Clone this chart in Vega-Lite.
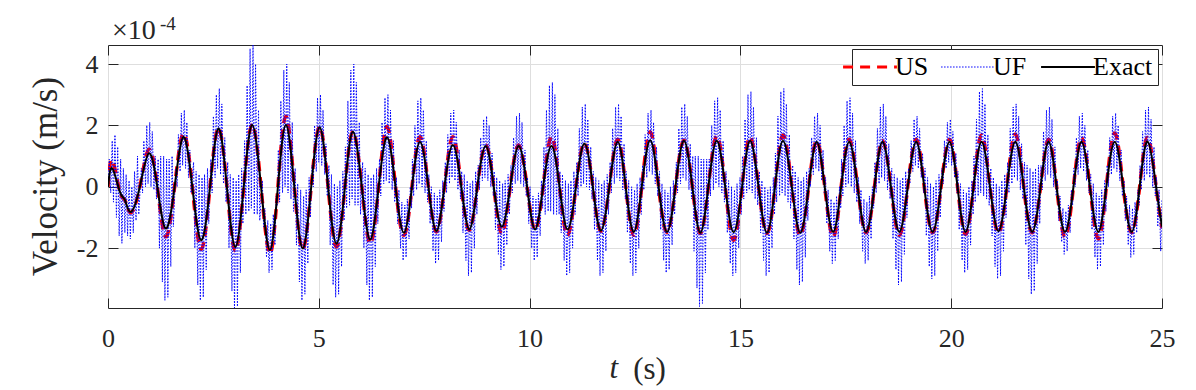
{
"$schema":"https://vega.github.io/schema/vega-lite/v6.json",
"width":1054,"height":263,
"autosize":{"type":"none"},
"padding":{"left":108,"top":45,"right":34,"bottom":82},
"background":"white",
"config":{
 "font":"Liberation Serif, Times New Roman, DejaVu Serif, serif",
 "view":{"stroke":"#262626","strokeWidth":1},
 "axis":{"labelFont":"Liberation Serif, Times New Roman, DejaVu Serif, serif","titleFont":"Liberation Serif, Times New Roman, DejaVu Serif, serif","labelColor":"#262626","titleColor":"#262626","tickColor":"#262626","tickWidth":1,"domain":false,"gridColor":"#dedede","gridWidth":1,"titleFontWeight":"normal"},
 "legend":{"labelFont":"Liberation Serif, Times New Roman, DejaVu Serif, serif","strokeColor":"#262626","strokeWidth":1,"fillColor":"#ffffff","zindex":5}
},
"datasets":{
"ex":[{"t":0,"v":0},{"t":0.1,"v":0.6},{"t":0.28,"v":-0.16},{"t":0.4,"v":-0.43},{"t":0.54,"v":-0.82},{"t":0.755,"v":0},{"t":0.97,"v":1.09},{"t":1.17,"v":0},{"t":1.37,"v":-1.36},{"t":1.58,"v":0},{"t":1.79,"v":1.62},{"t":2.0,"v":0},{"t":2.21,"v":-1.74},{"t":2.42,"v":0},{"t":2.62,"v":1.9},{"t":2.82,"v":0},{"t":3.02,"v":-1.96},{"t":3.22,"v":0},{"t":3.42,"v":2.01},{"t":3.63,"v":0},{"t":3.84,"v":-2.06},{"t":4.03,"v":0},{"t":4.22,"v":2.01},{"t":4.42,"v":0},{"t":4.62,"v":-2.01},{"t":4.82,"v":0},{"t":5.02,"v":1.94},{"t":5.22,"v":0},{"t":5.42,"v":-1.85},{"t":5.62,"v":0},{"t":5.81,"v":1.79},{"t":6.02,"v":0},{"t":6.22,"v":-1.72},{"t":6.42,"v":0},{"t":6.62,"v":1.61},{"t":6.82,"v":0},{"t":7.02,"v":-1.5},{"t":7.21,"v":0},{"t":7.4,"v":1.47},{"t":7.6,"v":0},{"t":7.79,"v":-1.44},{"t":7.98,"v":0},{"t":8.18,"v":1.36},{"t":8.38,"v":0},{"t":8.57,"v":-1.39},{"t":8.76,"v":0},{"t":8.96,"v":1.33},{"t":9.15,"v":0},{"t":9.34,"v":-1.3},{"t":9.54,"v":0},{"t":9.74,"v":1.33},{"t":9.94,"v":0},{"t":10.13,"v":-1.39},{"t":10.32,"v":0},{"t":10.52,"v":1.33},{"t":10.71,"v":0},{"t":10.9,"v":-1.39},{"t":11.1,"v":0},{"t":11.3,"v":1.41},{"t":11.5,"v":0},{"t":11.69,"v":-1.43},{"t":11.89,"v":0},{"t":12.09,"v":1.47},{"t":12.28,"v":0},{"t":12.47,"v":-1.47},{"t":12.66,"v":0},{"t":12.86,"v":1.52},{"t":13.06,"v":0},{"t":13.26,"v":-1.47},{"t":13.46,"v":0},{"t":13.66,"v":1.5},{"t":13.86,"v":0},{"t":14.05,"v":-1.5},{"t":14.24,"v":0},{"t":14.44,"v":1.5},{"t":14.64,"v":0},{"t":14.84,"v":-1.48},{"t":15.04,"v":0},{"t":15.23,"v":1.5},{"t":15.43,"v":0},{"t":15.63,"v":-1.5},{"t":15.82,"v":0},{"t":16.01,"v":1.5},{"t":16.22,"v":0},{"t":16.42,"v":-1.5},{"t":16.62,"v":0},{"t":16.81,"v":1.47},{"t":17.0,"v":0},{"t":17.2,"v":-1.47},{"t":17.39,"v":0},{"t":17.58,"v":1.47},{"t":17.78,"v":0},{"t":17.98,"v":-1.47},{"t":18.18,"v":0},{"t":18.37,"v":1.47},{"t":18.57,"v":0},{"t":18.77,"v":-1.47},{"t":18.97,"v":0},{"t":19.17,"v":1.47},{"t":19.36,"v":0},{"t":19.56,"v":-1.47},{"t":19.76,"v":0},{"t":19.96,"v":1.47},{"t":20.15,"v":0},{"t":20.34,"v":-1.47},{"t":20.53,"v":0},{"t":20.72,"v":1.47},{"t":20.92,"v":0},{"t":21.12,"v":-1.45},{"t":21.32,"v":0},{"t":21.52,"v":1.47},{"t":21.72,"v":0},{"t":21.92,"v":-1.47},{"t":22.12,"v":0},{"t":22.31,"v":1.47},{"t":22.5,"v":0},{"t":22.7,"v":-1.47},{"t":22.9,"v":0},{"t":23.09,"v":1.47},{"t":23.29,"v":0},{"t":23.49,"v":-1.47},{"t":23.68,"v":0},{"t":23.88,"v":1.47},{"t":24.08,"v":0},{"t":24.28,"v":-1.47},{"t":24.47,"v":0},{"t":24.66,"v":1.47},{"t":24.86,"v":0},{"t":25,"v":-1.3}],
"us":[{"t":0,"v":0},{"t":0.1,"v":0.87},{"t":0.28,"v":-0.16},{"t":0.4,"v":-0.43},{"t":0.54,"v":-0.85},{"t":0.755,"v":0},{"t":0.97,"v":1.22},{"t":1.17,"v":0},{"t":1.37,"v":-1.63},{"t":1.58,"v":0},{"t":1.79,"v":1.74},{"t":2.0,"v":0},{"t":2.21,"v":-2.04},{"t":2.42,"v":0},{"t":2.62,"v":1.92},{"t":2.82,"v":0},{"t":3.02,"v":-2.09},{"t":3.22,"v":0},{"t":3.42,"v":2.03},{"t":3.63,"v":0},{"t":3.84,"v":-2.17},{"t":4.03,"v":0},{"t":4.22,"v":2.3},{"t":4.42,"v":0},{"t":4.62,"v":-2.04},{"t":4.82,"v":0},{"t":5.02,"v":1.96},{"t":5.22,"v":0},{"t":5.42,"v":-1.96},{"t":5.62,"v":0},{"t":5.81,"v":1.8},{"t":6.02,"v":0},{"t":6.22,"v":-1.85},{"t":6.42,"v":0},{"t":6.62,"v":1.96},{"t":6.82,"v":0},{"t":7.02,"v":-1.58},{"t":7.21,"v":0},{"t":7.4,"v":1.63},{"t":7.6,"v":0},{"t":7.79,"v":-1.47},{"t":7.98,"v":0},{"t":8.18,"v":1.63},{"t":8.38,"v":0},{"t":8.57,"v":-1.42},{"t":8.76,"v":0},{"t":8.96,"v":1.36},{"t":9.15,"v":0},{"t":9.34,"v":-1.52},{"t":9.54,"v":0},{"t":9.74,"v":1.36},{"t":9.94,"v":0},{"t":10.13,"v":-1.4},{"t":10.32,"v":0},{"t":10.52,"v":1.63},{"t":10.71,"v":0},{"t":10.9,"v":-1.58},{"t":11.1,"v":0},{"t":11.3,"v":1.43},{"t":11.5,"v":0},{"t":11.69,"v":-1.45},{"t":11.89,"v":0},{"t":12.09,"v":1.55},{"t":12.28,"v":0},{"t":12.47,"v":-1.58},{"t":12.66,"v":0},{"t":12.86,"v":1.79},{"t":13.06,"v":0},{"t":13.26,"v":-1.49},{"t":13.46,"v":0},{"t":13.66,"v":1.52},{"t":13.86,"v":0},{"t":14.05,"v":-1.52},{"t":14.24,"v":0},{"t":14.44,"v":1.65},{"t":14.64,"v":0},{"t":14.84,"v":-1.74},{"t":15.04,"v":0},{"t":15.23,"v":1.63},{"t":15.43,"v":0},{"t":15.63,"v":-1.52},{"t":15.82,"v":0},{"t":16.01,"v":1.69},{"t":16.22,"v":0},{"t":16.42,"v":-1.58},{"t":16.62,"v":0},{"t":16.81,"v":1.5},{"t":17.0,"v":0},{"t":17.2,"v":-1.63},{"t":17.39,"v":0},{"t":17.58,"v":1.55},{"t":17.78,"v":0},{"t":17.98,"v":-1.5},{"t":18.18,"v":0},{"t":18.37,"v":1.5},{"t":18.57,"v":0},{"t":18.77,"v":-1.58},{"t":18.97,"v":0},{"t":19.17,"v":1.55},{"t":19.36,"v":0},{"t":19.56,"v":-1.5},{"t":19.76,"v":0},{"t":19.96,"v":1.55},{"t":20.15,"v":0},{"t":20.34,"v":-1.55},{"t":20.53,"v":0},{"t":20.72,"v":1.69},{"t":20.92,"v":0},{"t":21.12,"v":-1.5},{"t":21.32,"v":0},{"t":21.52,"v":1.72},{"t":21.72,"v":0},{"t":21.92,"v":-1.5},{"t":22.12,"v":0},{"t":22.31,"v":1.55},{"t":22.5,"v":0},{"t":22.7,"v":-1.63},{"t":22.9,"v":0},{"t":23.09,"v":1.6},{"t":23.29,"v":0},{"t":23.49,"v":-1.7},{"t":23.68,"v":0},{"t":23.88,"v":1.75},{"t":24.08,"v":0},{"t":24.28,"v":-1.5},{"t":24.47,"v":0},{"t":24.66,"v":1.6},{"t":24.86,"v":0},{"t":25,"v":-1.35}],
"uf":[{"t":0,"v":0},{"t":0.03,"v":0.9},{"t":0.065,"v":-0.2},{"t":0.1,"v":1.5},{"t":0.13,"v":-0.5},{"t":0.165,"v":1.69},{"t":0.2,"v":-1.0},{"t":0.23,"v":1.3},{"t":0.265,"v":-1.6},{"t":0.3,"v":0.9},{"t":0.33,"v":-1.84},{"t":0.365,"v":0.6},{"t":0.4,"v":-1.5},{"t":0.43,"v":0.4},{"t":0.465,"v":-1.6},{"t":0.5,"v":0.2},{"t":0.53,"v":-1.7},{"t":0.565,"v":0.0},{"t":0.6,"v":-1.5},{"t":0.63,"v":0.5},{"t":0.665,"v":-1.1},{"t":0.7,"v":1.0},{"t":0.73,"v":-0.9},
{"t":0.79,"v":0.6},{"t":0.82,"v":-0.2},{"t":0.85,"v":1.5},{"t":0.89,"v":0.0},{"t":0.92,"v":2.0},{"t":0.95,"v":0.1},{"t":0.99,"v":2.1},{"t":1.02,"v":0.0},{"t":1.05,"v":1.8},{"t":1.09,"v":-0.1},{"t":1.12,"v":1.0},{"t":1.15,"v":-0.4},
{"t":1.19,"v":0.9},{"t":1.22,"v":-2.0},{"t":1.25,"v":1.0},{"t":1.29,"v":-3.1},{"t":1.32,"v":1.0},{"t":1.35,"v":-3.7},{"t":1.39,"v":0.9},{"t":1.42,"v":-3.6},{"t":1.45,"v":0.9},{"t":1.49,"v":-2.6},{"t":1.52,"v":1.0},{"t":1.55,"v":-1.3},
{"t":1.61,"v":0.6},{"t":1.64,"v":0.0},{"t":1.67,"v":1.7},{"t":1.71,"v":0.5},{"t":1.74,"v":2.4},{"t":1.77,"v":0.7},{"t":1.81,"v":2.5},{"t":1.84,"v":0.6},{"t":1.87,"v":2.1},{"t":1.91,"v":0.3},{"t":1.94,"v":1.2},{"t":1.97,"v":-0.2},
{"t":2.03,"v":0.8},{"t":2.06,"v":-2.0},{"t":2.09,"v":0.5},{"t":2.13,"v":-3.2},{"t":2.16,"v":0.4},{"t":2.19,"v":-3.7},{"t":2.23,"v":0.3},{"t":2.26,"v":-3.6},{"t":2.29,"v":0.4},{"t":2.33,"v":-2.7},{"t":2.36,"v":0.6},{"t":2.39,"v":-1.2},
{"t":2.44,"v":0.9},{"t":2.47,"v":-0.2},{"t":2.5,"v":2.3},{"t":2.54,"v":0.3},{"t":2.57,"v":3.0},{"t":2.6,"v":0.6},{"t":2.64,"v":3.2},{"t":2.67,"v":0.4},{"t":2.7,"v":2.7},{"t":2.74,"v":0.1},{"t":2.77,"v":1.6},{"t":2.8,"v":-0.5},
{"t":2.84,"v":0.8},{"t":2.87,"v":-2.0},{"t":2.9,"v":0.4},{"t":2.94,"v":-3.4},{"t":2.97,"v":0.3},{"t":3.0,"v":-4.0},{"t":3.04,"v":0.2},{"t":3.07,"v":-3.9},{"t":3.1,"v":0.4},{"t":3.14,"v":-2.8},{"t":3.17,"v":0.6},{"t":3.2,"v":-1.2},
{"t":3.24,"v":1.5},{"t":3.27,"v":-0.9},{"t":3.3,"v":3.3},{"t":3.34,"v":-0.8},{"t":3.37,"v":4.5},{"t":3.4,"v":-0.7},{"t":3.44,"v":4.7},{"t":3.47,"v":-0.9},{"t":3.5,"v":4.0},{"t":3.54,"v":-0.9},{"t":3.57,"v":2.5},{"t":3.6,"v":-1.1},
{"t":3.66,"v":0.2},{"t":3.69,"v":-1.3},{"t":3.72,"v":-0.7},{"t":3.76,"v":-2.3},{"t":3.79,"v":-1.1},{"t":3.82,"v":-2.8},{"t":3.86,"v":-1.2},{"t":3.89,"v":-2.7},{"t":3.92,"v":-0.9},{"t":3.96,"v":-1.9},{"t":3.99,"v":-0.3},{"t":4.02,"v":-0.6},
{"t":4.04,"v":1.2},{"t":4.07,"v":-0.5},{"t":4.1,"v":2.8},{"t":4.14,"v":-0.2},{"t":4.17,"v":3.8},{"t":4.2,"v":0.0},{"t":4.24,"v":4.0},{"t":4.27,"v":-0.2},{"t":4.3,"v":3.4},{"t":4.34,"v":-0.4},{"t":4.37,"v":2.1},{"t":4.4,"v":-0.8},
{"t":4.44,"v":0.6},{"t":4.47,"v":-1.9},{"t":4.5,"v":0.1},{"t":4.54,"v":-3.1},{"t":4.57,"v":-0.1},{"t":4.6,"v":-3.7},{"t":4.64,"v":-0.3},{"t":4.67,"v":-3.5},{"t":4.7,"v":-0.1},{"t":4.74,"v":-2.5},{"t":4.77,"v":0.3},{"t":4.8,"v":-1.0},
{"t":4.84,"v":0.7},{"t":4.87,"v":0.0},{"t":4.9,"v":2.0},{"t":4.94,"v":0.5},{"t":4.97,"v":2.9},{"t":5.0,"v":0.8},{"t":5.04,"v":3.0},{"t":5.07,"v":0.7},{"t":5.1,"v":2.5},{"t":5.14,"v":0.4},{"t":5.17,"v":1.4},{"t":5.2,"v":-0.3},
{"t":5.24,"v":0.7},{"t":5.27,"v":-1.9},{"t":5.3,"v":0.4},{"t":5.34,"v":-3.2},{"t":5.37,"v":0.1},{"t":5.4,"v":-3.6},{"t":5.44,"v":0.0},{"t":5.47,"v":-3.5},{"t":5.5,"v":0.2},{"t":5.54,"v":-2.6},{"t":5.57,"v":0.5},{"t":5.6,"v":-1.1},
{"t":5.63,"v":1.3},{"t":5.66,"v":-0.7},{"t":5.69,"v":2.8},{"t":5.73,"v":-0.6},{"t":5.76,"v":3.8},{"t":5.79,"v":-0.4},{"t":5.83,"v":4.0},{"t":5.86,"v":-0.6},{"t":5.89,"v":3.4},{"t":5.93,"v":-0.6},{"t":5.96,"v":2.1},{"t":5.99,"v":-0.9},
{"t":6.04,"v":0.8},{"t":6.07,"v":-2.0},{"t":6.1,"v":0.6},{"t":6.14,"v":-3.2},{"t":6.17,"v":0.4},{"t":6.2,"v":-3.7},{"t":6.24,"v":0.3},{"t":6.27,"v":-3.6},{"t":6.3,"v":0.4},{"t":6.34,"v":-2.6},{"t":6.37,"v":0.6},{"t":6.4,"v":-1.2},
{"t":6.44,"v":0.9},{"t":6.47,"v":-0.3},{"t":6.5,"v":2.1},{"t":6.54,"v":0.1},{"t":6.57,"v":2.9},{"t":6.6,"v":0.2},{"t":6.64,"v":3.0},{"t":6.67,"v":0.1},{"t":6.7,"v":2.5},{"t":6.74,"v":-0.1},{"t":6.77,"v":1.5},{"t":6.8,"v":-0.5},
{"t":6.84,"v":0.3},{"t":6.87,"v":-1.2},{"t":6.9,"v":-0.1},{"t":6.94,"v":-2.0},{"t":6.97,"v":-0.5},{"t":7.0,"v":-2.4},{"t":7.04,"v":-0.6},{"t":7.07,"v":-2.3},{"t":7.1,"v":-0.4},{"t":7.14,"v":-1.7},{"t":7.17,"v":0.0},{"t":7.2,"v":-0.7},
{"t":7.22,"v":0.9},{"t":7.25,"v":-0.3},{"t":7.28,"v":2.0},{"t":7.32,"v":-0.1},{"t":7.35,"v":2.8},{"t":7.38,"v":0.1},{"t":7.42,"v":2.9},{"t":7.45,"v":0.0},{"t":7.48,"v":2.5},{"t":7.52,"v":-0.2},{"t":7.55,"v":1.5},{"t":7.58,"v":-0.5},
{"t":7.61,"v":0.4},{"t":7.64,"v":-1.2},{"t":7.67,"v":0.0},{"t":7.71,"v":-2.1},{"t":7.74,"v":-0.2},{"t":7.77,"v":-2.5},{"t":7.81,"v":-0.3},{"t":7.84,"v":-2.4},{"t":7.87,"v":-0.1},{"t":7.91,"v":-1.8},{"t":7.94,"v":0.2},{"t":7.97,"v":-0.8},
{"t":8.0,"v":0.8},{"t":8.03,"v":-0.2},{"t":8.06,"v":1.7},{"t":8.1,"v":0.1},{"t":8.13,"v":2.4},{"t":8.16,"v":0.3},{"t":8.2,"v":2.5},{"t":8.23,"v":0.2},{"t":8.26,"v":2.1},{"t":8.3,"v":-0.1},{"t":8.33,"v":1.2},{"t":8.36,"v":-0.4},
{"t":8.39,"v":0.5},{"t":8.42,"v":-1.5},{"t":8.45,"v":0.4},{"t":8.49,"v":-2.4},{"t":8.52,"v":0.2},{"t":8.55,"v":-2.9},{"t":8.59,"v":0.1},{"t":8.62,"v":-2.8},{"t":8.65,"v":0.2},{"t":8.69,"v":-2.0},{"t":8.72,"v":0.5},{"t":8.75,"v":-0.9},
{"t":8.78,"v":0.7},{"t":8.81,"v":-0.1},{"t":8.84,"v":1.6},{"t":8.88,"v":0.2},{"t":8.91,"v":2.2},{"t":8.94,"v":0.3},{"t":8.98,"v":2.3},{"t":9.01,"v":0.2},{"t":9.04,"v":2.0},{"t":9.08,"v":0.0},{"t":9.11,"v":1.1},{"t":9.14,"v":-0.3},
{"t":9.16,"v":0.5},{"t":9.19,"v":-1.4},{"t":9.22,"v":0.3},{"t":9.26,"v":-2.2},{"t":9.29,"v":0.2},{"t":9.32,"v":-2.7},{"t":9.36,"v":0.1},{"t":9.39,"v":-2.6},{"t":9.42,"v":0.2},{"t":9.46,"v":-1.9},{"t":9.49,"v":0.4},{"t":9.52,"v":-0.9},
{"t":9.56,"v":0.7},{"t":9.59,"v":-0.2},{"t":9.62,"v":1.6},{"t":9.66,"v":0.1},{"t":9.69,"v":2.3},{"t":9.72,"v":0.2},{"t":9.76,"v":2.4},{"t":9.79,"v":0.1},{"t":9.82,"v":2.1},{"t":9.86,"v":0.0},{"t":9.89,"v":1.2},{"t":9.92,"v":-0.3},
{"t":9.95,"v":0.3},{"t":9.98,"v":-1.2},{"t":10.01,"v":0.0},{"t":10.05,"v":-2.0},{"t":10.08,"v":-0.3},{"t":10.11,"v":-2.4},{"t":10.15,"v":-0.4},{"t":10.18,"v":-2.3},{"t":10.21,"v":-0.2},{"t":10.25,"v":-1.6},{"t":10.28,"v":0.2},{"t":10.31,"v":-0.7},
{"t":10.34,"v":1.3},{"t":10.37,"v":-0.9},{"t":10.4,"v":2.5},{"t":10.44,"v":-0.8},{"t":10.47,"v":3.3},{"t":10.5,"v":-0.8},{"t":10.54,"v":3.4},{"t":10.57,"v":-0.9},{"t":10.6,"v":3.0},{"t":10.64,"v":-0.9},{"t":10.67,"v":1.9},{"t":10.7,"v":-0.9},
{"t":10.72,"v":0.5},{"t":10.75,"v":-1.5},{"t":10.78,"v":0.4},{"t":10.82,"v":-2.4},{"t":10.85,"v":0.2},{"t":10.88,"v":-2.9},{"t":10.92,"v":0.1},{"t":10.95,"v":-2.8},{"t":10.98,"v":0.2},{"t":11.02,"v":-2.0},{"t":11.05,"v":0.5},{"t":11.08,"v":-0.9},
{"t":11.12,"v":0.8},{"t":11.15,"v":-0.3},{"t":11.18,"v":1.9},{"t":11.22,"v":0.0},{"t":11.25,"v":2.6},{"t":11.28,"v":0.1},{"t":11.32,"v":2.7},{"t":11.35,"v":0.0},{"t":11.38,"v":2.2},{"t":11.42,"v":-0.1},{"t":11.45,"v":1.3},{"t":11.48,"v":-0.4},
{"t":11.51,"v":0.5},{"t":11.54,"v":-1.4},{"t":11.57,"v":0.3},{"t":11.61,"v":-2.4},{"t":11.64,"v":0.2},{"t":11.67,"v":-2.9},{"t":11.71,"v":0.1},{"t":11.74,"v":-2.8},{"t":11.77,"v":0.2},{"t":11.81,"v":-2.1},{"t":11.84,"v":0.4},{"t":11.87,"v":-0.9},
{"t":11.91,"v":0.8},{"t":11.94,"v":-0.2},{"t":11.97,"v":1.9},{"t":12.01,"v":0.1},{"t":12.04,"v":2.6},{"t":12.07,"v":0.3},{"t":12.11,"v":2.7},{"t":12.14,"v":0.2},{"t":12.17,"v":2.3},{"t":12.21,"v":-0.1},{"t":12.24,"v":1.4},{"t":12.27,"v":-0.4},
{"t":12.29,"v":0.5},{"t":12.32,"v":-1.5},{"t":12.35,"v":0.2},{"t":12.39,"v":-2.5},{"t":12.42,"v":0.0},{"t":12.45,"v":-2.9},{"t":12.49,"v":-0.1},{"t":12.52,"v":-2.8},{"t":12.55,"v":0.1},{"t":12.59,"v":-2.0},{"t":12.62,"v":0.3},{"t":12.65,"v":-0.9},
{"t":12.68,"v":0.7},{"t":12.71,"v":-0.1},{"t":12.74,"v":1.7},{"t":12.78,"v":0.3},{"t":12.81,"v":2.4},{"t":12.84,"v":0.5},{"t":12.88,"v":2.5},{"t":12.91,"v":0.4},{"t":12.94,"v":2.1},{"t":12.98,"v":0.1},{"t":13.01,"v":1.3},{"t":13.04,"v":-0.3},
{"t":13.08,"v":0.5},{"t":13.11,"v":-1.4},{"t":13.14,"v":0.1},{"t":13.18,"v":-2.4},{"t":13.21,"v":-0.1},{"t":13.24,"v":-2.8},{"t":13.28,"v":-0.2},{"t":13.31,"v":-2.7},{"t":13.34,"v":0.0},{"t":13.38,"v":-1.9},{"t":13.41,"v":0.2},{"t":13.44,"v":-0.9},
{"t":13.48,"v":0.8},{"t":13.51,"v":-0.2},{"t":13.54,"v":1.9},{"t":13.58,"v":0.1},{"t":13.61,"v":2.6},{"t":13.64,"v":0.3},{"t":13.68,"v":2.7},{"t":13.71,"v":0.2},{"t":13.74,"v":2.3},{"t":13.78,"v":-0.1},{"t":13.81,"v":1.4},{"t":13.84,"v":-0.4},
{"t":13.87,"v":1.0},{"t":13.9,"v":-2.1},{"t":13.93,"v":1.0},{"t":13.97,"v":-3.3},{"t":14.0,"v":1.0},{"t":14.03,"v":-3.9},{"t":14.07,"v":0.9},{"t":14.1,"v":-3.8},{"t":14.13,"v":0.9},{"t":14.17,"v":-2.8},{"t":14.2,"v":0.9},{"t":14.23,"v":-1.4},
{"t":14.26,"v":0.9},{"t":14.29,"v":-0.3},{"t":14.32,"v":2.0},{"t":14.36,"v":-0.1},{"t":14.39,"v":2.8},{"t":14.42,"v":0.1},{"t":14.46,"v":2.9},{"t":14.49,"v":0.0},{"t":14.52,"v":2.5},{"t":14.56,"v":-0.2},{"t":14.59,"v":1.5},{"t":14.62,"v":-0.5},
{"t":14.66,"v":0.5},{"t":14.69,"v":-1.5},{"t":14.72,"v":0.2},{"t":14.76,"v":-2.5},{"t":14.79,"v":0.0},{"t":14.82,"v":-2.9},{"t":14.86,"v":-0.1},{"t":14.89,"v":-2.8},{"t":14.92,"v":0.1},{"t":14.96,"v":-2.0},{"t":14.99,"v":0.3},{"t":15.02,"v":-0.9},
{"t":15.05,"v":1.0},{"t":15.08,"v":-0.4},{"t":15.11,"v":2.2},{"t":15.15,"v":-0.2},{"t":15.18,"v":3.0},{"t":15.21,"v":-0.1},{"t":15.25,"v":3.1},{"t":15.28,"v":-0.2},{"t":15.31,"v":2.6},{"t":15.35,"v":-0.4},{"t":15.38,"v":1.6},{"t":15.41,"v":-0.6},
{"t":15.45,"v":0.5},{"t":15.48,"v":-1.5},{"t":15.51,"v":0.2},{"t":15.55,"v":-2.4},{"t":15.58,"v":0.0},{"t":15.61,"v":-2.9},{"t":15.65,"v":-0.1},{"t":15.68,"v":-2.8},{"t":15.71,"v":0.0},{"t":15.75,"v":-2.0},{"t":15.78,"v":0.3},{"t":15.81,"v":-0.9},
{"t":15.83,"v":1.1},{"t":15.86,"v":-0.5},{"t":15.89,"v":2.3},{"t":15.93,"v":-0.3},{"t":15.96,"v":3.1},{"t":15.99,"v":-0.2},{"t":16.03,"v":3.2},{"t":16.06,"v":-0.3},{"t":16.09,"v":2.7},{"t":16.13,"v":-0.5},{"t":16.16,"v":1.7},{"t":16.19,"v":-0.7},
{"t":16.24,"v":0.7},{"t":16.27,"v":-1.7},{"t":16.3,"v":0.5},{"t":16.34,"v":-2.7},{"t":16.37,"v":0.3},{"t":16.4,"v":-3.2},{"t":16.44,"v":0.2},{"t":16.47,"v":-3.1},{"t":16.5,"v":0.3},{"t":16.54,"v":-2.3},{"t":16.57,"v":0.5},{"t":16.6,"v":-1.1},
{"t":16.63,"v":0.6},{"t":16.66,"v":0.0},{"t":16.69,"v":1.6},{"t":16.73,"v":0.4},{"t":16.76,"v":2.3},{"t":16.79,"v":0.6},{"t":16.83,"v":2.4},{"t":16.86,"v":0.5},{"t":16.89,"v":2.0},{"t":16.93,"v":0.2},{"t":16.96,"v":1.2},{"t":16.99,"v":-0.2},
{"t":17.02,"v":0.3},{"t":17.05,"v":-1.2},{"t":17.08,"v":-0.1},{"t":17.12,"v":-2.1},{"t":17.15,"v":-0.4},{"t":17.18,"v":-2.5},{"t":17.22,"v":-0.5},{"t":17.25,"v":-2.4},{"t":17.28,"v":-0.3},{"t":17.32,"v":-1.7},{"t":17.35,"v":0.0},{"t":17.38,"v":-0.7},
{"t":17.4,"v":0.9},{"t":17.43,"v":-0.3},{"t":17.46,"v":2.0},{"t":17.5,"v":0.0},{"t":17.53,"v":2.8},{"t":17.56,"v":0.1},{"t":17.6,"v":2.9},{"t":17.63,"v":0.0},{"t":17.66,"v":2.4},{"t":17.7,"v":-0.2},{"t":17.73,"v":1.5},{"t":17.76,"v":-0.5},
{"t":17.8,"v":0.3},{"t":17.83,"v":-1.2},{"t":17.86,"v":-0.1},{"t":17.9,"v":-2.1},{"t":17.93,"v":-0.4},{"t":17.96,"v":-2.5},{"t":18.0,"v":-0.5},{"t":18.03,"v":-2.4},{"t":18.06,"v":-0.3},{"t":18.1,"v":-1.7},{"t":18.13,"v":0.0},{"t":18.16,"v":-0.7},
{"t":18.19,"v":0.8},{"t":18.22,"v":-0.2},{"t":18.25,"v":1.9},{"t":18.29,"v":0.1},{"t":18.32,"v":2.6},{"t":18.35,"v":0.3},{"t":18.39,"v":2.7},{"t":18.42,"v":0.2},{"t":18.45,"v":2.3},{"t":18.49,"v":-0.1},{"t":18.52,"v":1.4},{"t":18.55,"v":-0.4},
{"t":18.59,"v":0.6},{"t":18.62,"v":-1.7},{"t":18.65,"v":0.4},{"t":18.69,"v":-2.7},{"t":18.72,"v":0.3},{"t":18.75,"v":-3.2},{"t":18.79,"v":0.2},{"t":18.82,"v":-3.1},{"t":18.85,"v":0.3},{"t":18.89,"v":-2.2},{"t":18.92,"v":0.5},{"t":18.95,"v":-1.0},
{"t":18.99,"v":0.6},{"t":19.02,"v":0.1},{"t":19.05,"v":1.5},{"t":19.09,"v":0.5},{"t":19.12,"v":2.2},{"t":19.15,"v":0.7},{"t":19.19,"v":2.3},{"t":19.22,"v":0.6},{"t":19.25,"v":1.9},{"t":19.29,"v":0.3},{"t":19.32,"v":1.1},{"t":19.35,"v":-0.2},
{"t":19.38,"v":0.6},{"t":19.41,"v":-1.6},{"t":19.44,"v":0.3},{"t":19.48,"v":-2.6},{"t":19.51,"v":0.1},{"t":19.54,"v":-3.0},{"t":19.58,"v":0.0},{"t":19.61,"v":-2.9},{"t":19.64,"v":0.2},{"t":19.68,"v":-2.1},{"t":19.71,"v":0.4},{"t":19.74,"v":-1.0},
{"t":19.78,"v":0.6},{"t":19.81,"v":0.1},{"t":19.84,"v":1.5},{"t":19.88,"v":0.6},{"t":19.91,"v":2.1},{"t":19.94,"v":0.8},{"t":19.98,"v":2.2},{"t":20.01,"v":0.7},{"t":20.04,"v":1.8},{"t":20.08,"v":0.3},{"t":20.11,"v":1.1},{"t":20.14,"v":-0.2},
{"t":20.16,"v":0.5},{"t":20.19,"v":-1.4},{"t":20.22,"v":0.1},{"t":20.26,"v":-2.4},{"t":20.29,"v":-0.1},{"t":20.32,"v":-2.8},{"t":20.36,"v":-0.2},{"t":20.39,"v":-2.7},{"t":20.42,"v":0.0},{"t":20.46,"v":-1.9},{"t":20.49,"v":0.2},{"t":20.52,"v":-0.9},
{"t":20.54,"v":1.0},{"t":20.57,"v":-0.5},{"t":20.6,"v":2.2},{"t":20.64,"v":-0.3},{"t":20.67,"v":3.1},{"t":20.7,"v":-0.2},{"t":20.74,"v":3.2},{"t":20.77,"v":-0.3},{"t":20.8,"v":2.7},{"t":20.84,"v":-0.4},{"t":20.87,"v":1.7},{"t":20.9,"v":-0.6},
{"t":20.94,"v":0.6},{"t":20.97,"v":-1.6},{"t":21.0,"v":0.3},{"t":21.04,"v":-2.6},{"t":21.07,"v":0.1},{"t":21.1,"v":-3.0},{"t":21.14,"v":0.0},{"t":21.17,"v":-2.9},{"t":21.2,"v":0.2},{"t":21.24,"v":-2.1},{"t":21.27,"v":0.4},{"t":21.3,"v":-1.0},
{"t":21.34,"v":0.8},{"t":21.37,"v":-0.2},{"t":21.4,"v":1.9},{"t":21.44,"v":0.1},{"t":21.47,"v":2.6},{"t":21.5,"v":0.3},{"t":21.54,"v":2.7},{"t":21.57,"v":0.2},{"t":21.6,"v":2.3},{"t":21.64,"v":-0.1},{"t":21.67,"v":1.4},{"t":21.7,"v":-0.4},
{"t":21.74,"v":0.8},{"t":21.77,"v":-1.9},{"t":21.8,"v":0.7},{"t":21.84,"v":-3.0},{"t":21.87,"v":0.6},{"t":21.9,"v":-3.5},{"t":21.94,"v":0.5},{"t":21.97,"v":-3.4},{"t":22.0,"v":0.6},{"t":22.04,"v":-2.5},{"t":22.07,"v":0.7},{"t":22.1,"v":-1.2},
{"t":22.13,"v":0.7},{"t":22.16,"v":-0.1},{"t":22.19,"v":1.8},{"t":22.23,"v":0.2},{"t":22.26,"v":2.5},{"t":22.29,"v":0.4},{"t":22.33,"v":2.6},{"t":22.36,"v":0.3},{"t":22.39,"v":2.2},{"t":22.43,"v":0.0},{"t":22.46,"v":1.3},{"t":22.49,"v":-0.3},
{"t":22.52,"v":0.2},{"t":22.55,"v":-1.1},{"t":22.58,"v":-0.3},{"t":22.62,"v":-1.8},{"t":22.65,"v":-0.7},{"t":22.68,"v":-2.2},{"t":22.72,"v":-0.8},{"t":22.75,"v":-2.1},{"t":22.78,"v":-0.6},{"t":22.82,"v":-1.5},{"t":22.85,"v":-0.1},{"t":22.88,"v":-0.6},
{"t":22.91,"v":0.6},{"t":22.94,"v":0.0},{"t":22.97,"v":1.6},{"t":23.01,"v":0.4},{"t":23.04,"v":2.3},{"t":23.07,"v":0.6},{"t":23.11,"v":2.4},{"t":23.14,"v":0.5},{"t":23.17,"v":2.0},{"t":23.21,"v":0.2},{"t":23.24,"v":1.2},{"t":23.27,"v":-0.2},
{"t":23.31,"v":0.4},{"t":23.34,"v":-1.4},{"t":23.37,"v":0.1},{"t":23.41,"v":-2.3},{"t":23.44,"v":-0.2},{"t":23.47,"v":-2.7},{"t":23.51,"v":-0.3},{"t":23.54,"v":-2.6},{"t":23.57,"v":-0.1},{"t":23.61,"v":-1.9},{"t":23.64,"v":0.2},{"t":23.67,"v":-0.8},
{"t":23.7,"v":0.7},{"t":23.73,"v":0.0},{"t":23.76,"v":1.6},{"t":23.8,"v":0.4},{"t":23.83,"v":2.3},{"t":23.86,"v":0.6},{"t":23.9,"v":2.4},{"t":23.93,"v":0.5},{"t":23.96,"v":2.0},{"t":24.0,"v":0.2},{"t":24.03,"v":1.2},{"t":24.06,"v":-0.3},
{"t":24.1,"v":0.2},{"t":24.13,"v":-1.1},{"t":24.16,"v":-0.3},{"t":24.2,"v":-1.9},{"t":24.23,"v":-0.6},{"t":24.26,"v":-2.3},{"t":24.3,"v":-0.7},{"t":24.33,"v":-2.2},{"t":24.36,"v":-0.5},{"t":24.4,"v":-1.5},{"t":24.43,"v":-0.1},{"t":24.46,"v":-0.6},
{"t":24.48,"v":0.7},{"t":24.51,"v":-0.1},{"t":24.54,"v":1.8},{"t":24.58,"v":0.2},{"t":24.61,"v":2.5},{"t":24.64,"v":0.4},{"t":24.68,"v":2.6},{"t":24.71,"v":0.3},{"t":24.74,"v":2.2},{"t":24.78,"v":0.0},{"t":24.81,"v":1.3},{"t":24.84,"v":-0.3},
{"t":24.87,"v":0.3},{"t":24.9,"v":-1.3},{"t":24.93,"v":-0.1},{"t":24.97,"v":-2.1},{"t":25,"v":-0.4}]
},
"resolve":{"axis":{"x":"independent","y":"independent"}},
"layer":[
{"data":{"name":"us"},
 "mark":{"type":"line","interpolate":"natural","clip":true,"strokeWidth":3.5,"strokeDash":[10,6]},
 "encoding":{
  "x":{"field":"t","type":"quantitative","scale":{"domain":[0,25],"nice":false,"zero":false},
   "axis":{"orient":"bottom","values":[0,5,10,15,20,25],"grid":true,"tickSize":-10,"labelPadding":27,"labelFont":"Liberation Serif, Times New Roman, DejaVu Serif, serif","labelFontSize":26,"labelFlush":false,"title":"(s)","titleFont":"Liberation Serif, Times New Roman, DejaVu Serif, serif","titleFontSize":31,"titleX":541,"titleY":70,"titleBaseline":"alphabetic","titleAlign":"center"}},
  "y":{"field":"v","type":"quantitative","scale":{"domain":[-3.95,4.62],"nice":false,"zero":false},
   "axis":{"orient":"left","values":[-2,0,2,4],"grid":true,"tickSize":-10,"labelPadding":20,"labelFont":"Liberation Serif, Times New Roman, DejaVu Serif, serif","labelFontSize":26,"labelFlush":false,"labelExpr":"replace(datum.label, '−', '-')","title":"Velocity (m/s)","titleFont":"Liberation Serif, Times New Roman, DejaVu Serif, serif","titleFontSize":35,"titleX":-52,"titleY":131,"titleBaseline":"alphabetic","titleAlign":"center","titleAngle":-90}},
  "color":{"datum":"US","scale":{"domain":["US","UF","Exact"],"range":["#ff0000","#0000ff","#000000"]},
   "legend":{"title":null,"orient":"top-right","offset":4,"direction":"horizontal","symbolType":"stroke","symbolSize":2900,"labelFont":"Liberation Serif, Times New Roman, DejaVu Serif, serif","labelFontSize":26,"labelColor":"#000000","labelOffset":12,"columnPadding":10,"padding":5,"strokeColor":"#262626","fillColor":"#ffffff","cornerRadius":0,"labelLimit":300,
    "encode":{"legend":{"update":{"stroke":{"value":"#262626"},"strokeWidth":{"value":1},"fill":{"value":"#ffffff"}}},"symbols":{"update":{"strokeWidth":{"signal":"datum.value === 'US' ? 3 : (datum.value === 'UF' ? 1 : 2)"},"strokeDash":{"signal":"datum.value === 'US' ? [10,7] : (datum.value === 'UF' ? [1.5,1.5] : [1,0])"}}}}}}
 }},
{"data":{"name":"uf"},
 "mark":{"type":"line","clip":true,"strokeWidth":1,"strokeDash":[1.5,1.5]},
 "encoding":{
  "x":{"field":"t","type":"quantitative","scale":{"domain":[0,25],"nice":false,"zero":false},
   "axis":{"orient":"top","values":[0,5,10,15,20,25],"grid":false,"labels":false,"tickSize":-10,"title":null}},
  "y":{"field":"v","type":"quantitative","scale":{"domain":[-3.95,4.62],"nice":false,"zero":false},
   "axis":{"orient":"right","values":[-2,0,2,4],"grid":false,"labels":false,"tickSize":-10,"title":null}},
  "color":{"datum":"UF","scale":{"domain":["US","UF","Exact"],"range":["#ff0000","#0000ff","#000000"]},"legend":{"title":null}}
 }},
{"data":{"name":"ex"},
 "mark":{"type":"line","interpolate":"natural","clip":true,"strokeWidth":2},
 "encoding":{
  "x":{"field":"t","type":"quantitative","scale":{"domain":[0,25],"nice":false,"zero":false},"axis":null},
  "y":{"field":"v","type":"quantitative","scale":{"domain":[-3.95,4.62],"nice":false,"zero":false},"axis":null},
  "color":{"datum":"Exact","scale":{"domain":["US","UF","Exact"],"range":["#ff0000","#0000ff","#000000"]},"legend":{"title":null}}
 }},
{"data":{"values":[{}]},
 "mark":{"type":"text","text":"×10","font":"Liberation Serif, Times New Roman, DejaVu Serif, serif","fontSize":28,"align":"left","baseline":"alphabetic","dx":4,"dy":-6,"color":"#262626"},
 "encoding":{"x":{"datum":0,"type":"quantitative","axis":null},"y":{"datum":4.62,"type":"quantitative","axis":null}}},
{"data":{"values":[{}]},
 "mark":{"type":"text","text":"-4","font":"Liberation Serif, Times New Roman, DejaVu Serif, serif","fontSize":19,"align":"left","baseline":"alphabetic","dx":52,"dy":-15,"color":"#262626"},
 "encoding":{"x":{"datum":0,"type":"quantitative","axis":null},"y":{"datum":4.62,"type":"quantitative","axis":null}}},
{"data":{"values":[{}]},
 "mark":{"type":"text","text":"t","font":"Liberation Serif, Times New Roman, DejaVu Serif, serif","fontSize":31,"fontStyle":"italic","align":"center","baseline":"alphabetic","dy":70,"color":"#262626"},
 "encoding":{"x":{"datum":12.0,"type":"quantitative","axis":null},"y":{"datum":-3.95,"type":"quantitative","axis":null}}}
]
}
